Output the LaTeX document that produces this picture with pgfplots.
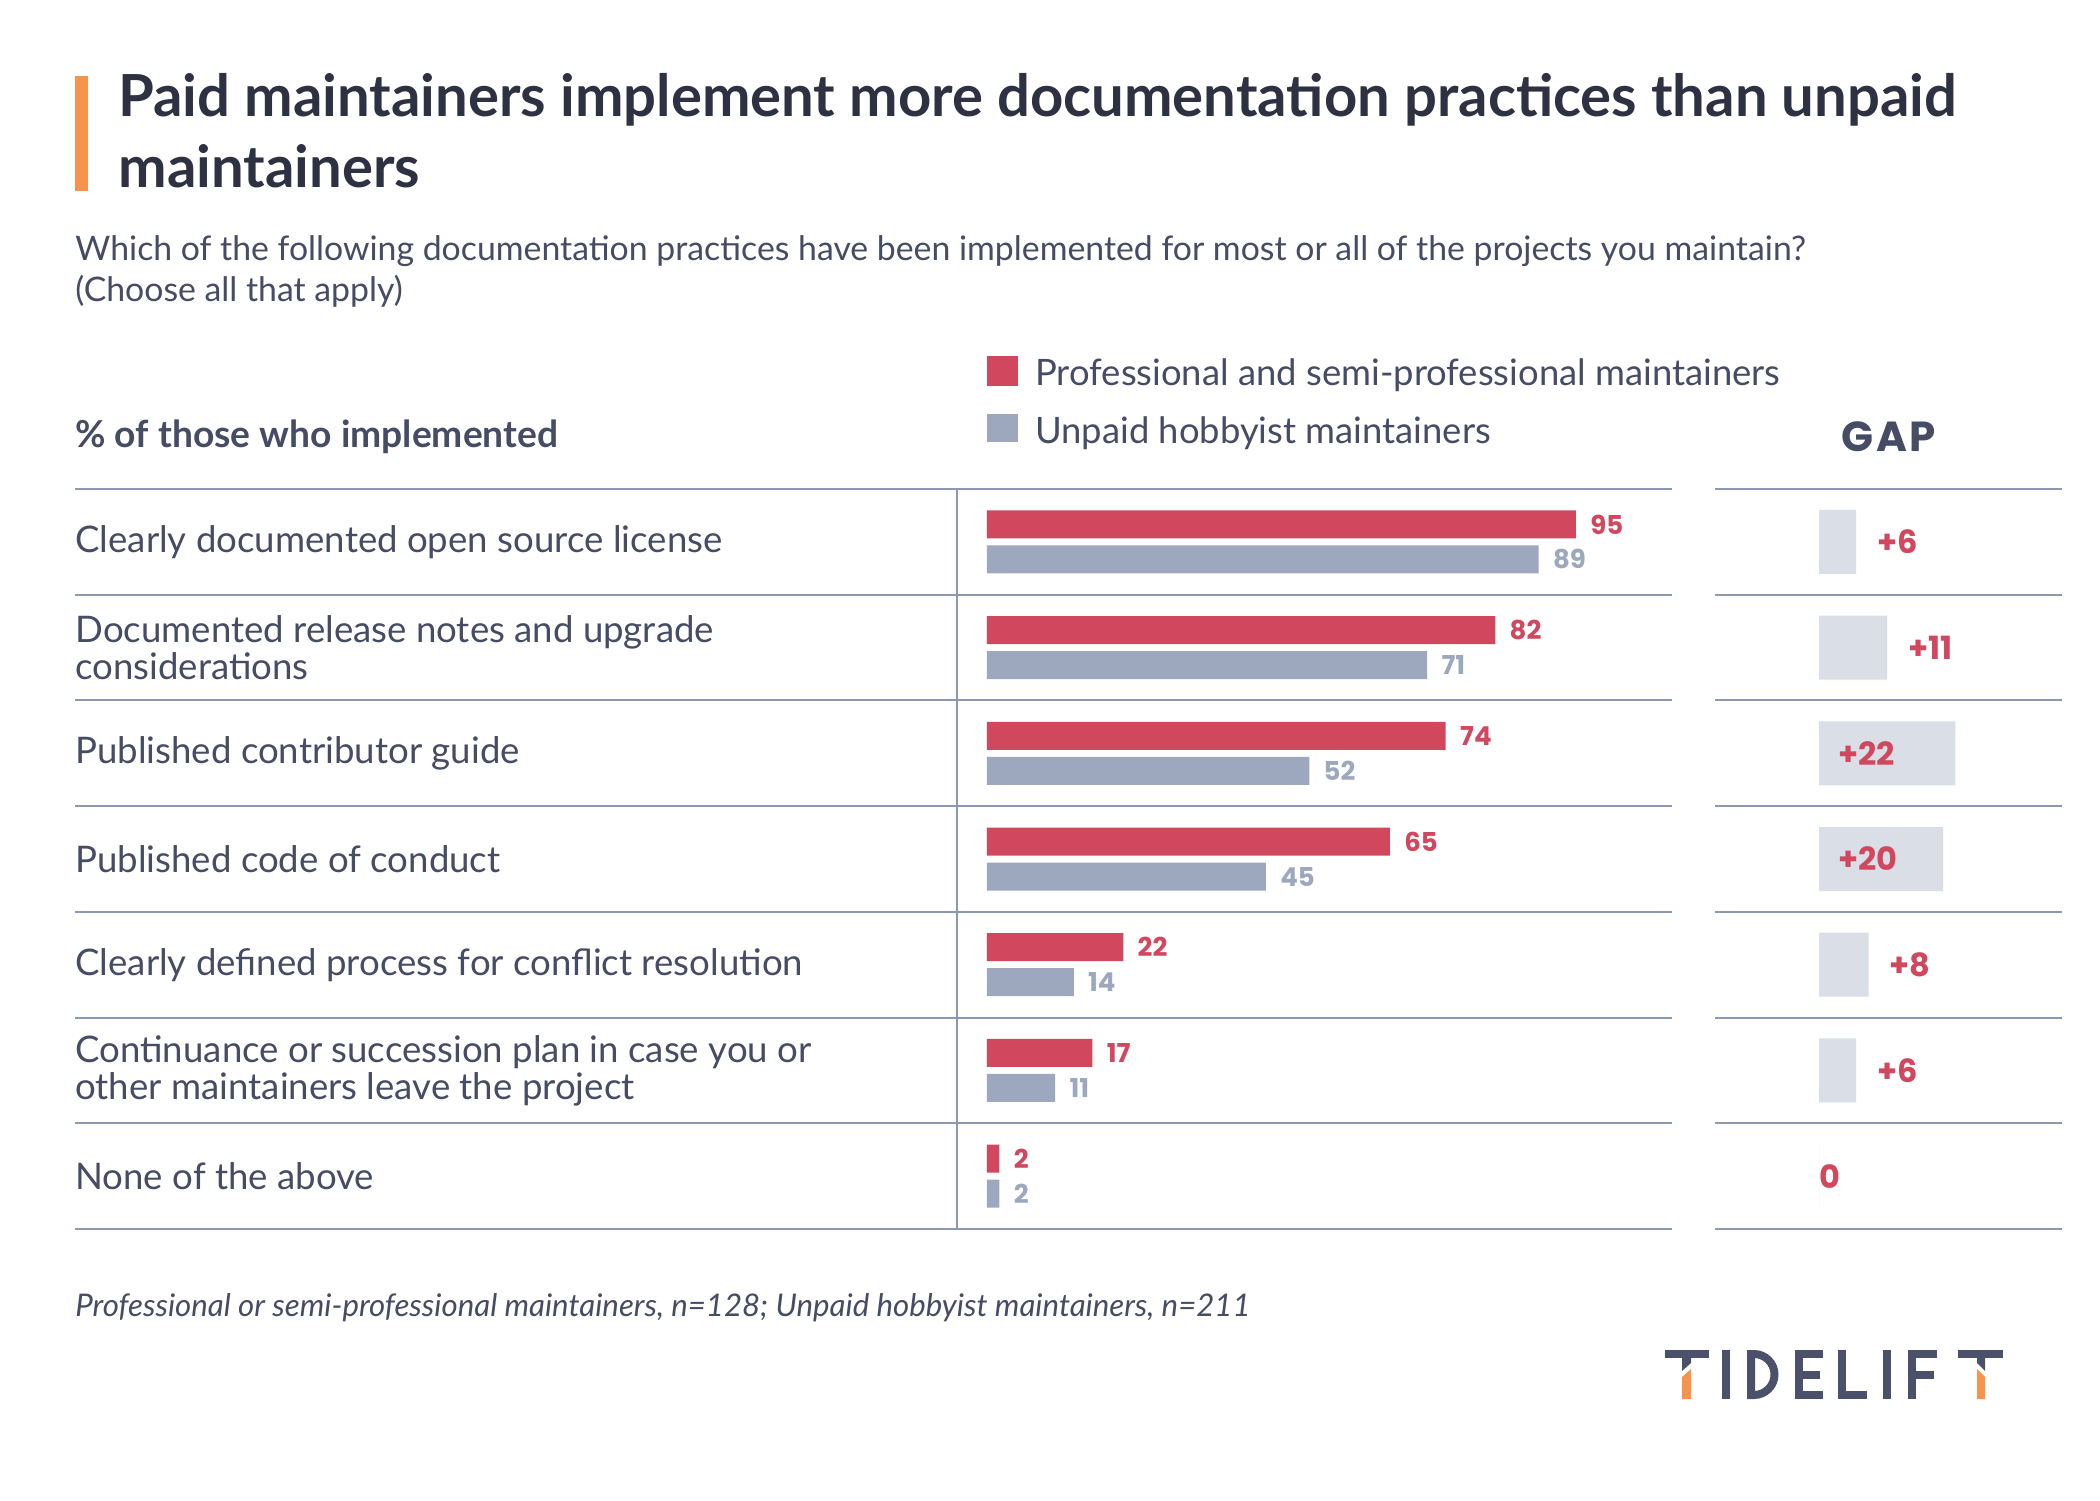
\documentclass[border=0pt]{standalone}
\usepackage{pgfplots}
\pgfplotsset{compat=1.18}
\usepackage{pgfplotstable}
\usepackage{fontspec}
\setmainfont{Lato}
\newfontfamily\gapfont{Poppins}
\newfontfamily\gaphead{Poppins}[LetterSpace=6]
\definecolor{red1}{HTML}{D1475D}
\definecolor{gray1}{HTML}{9DA8BF}
\definecolor{gapbox}{HTML}{DADFE7}
\definecolor{linecol}{HTML}{8B98AF}
\definecolor{orange1}{HTML}{F7934C}
\definecolor{textcol}{HTML}{464C64}
\definecolor{titlecol}{HTML}{2E3142}
\definecolor{logocol}{HTML}{4B516B}

\pgfplotstableread{
row pro hob
0 95 89
1 82 71
2 74 52
3 65 45
4 22 14
5 17 11
6 2 2
}\maindata

\pgfplotstableread{
row gap lx lab
0 6 9.3 +6
1 11 14.3 +11
2 22 3.0 +22
3 20 3.0 +20
4 8 11.3 +8
5 6 9.3 +6
6 0 0 0
}\gapdata

\begin{document}
\begin{tikzpicture}
\path[use as bounding box] (0,0) rectangle (1050pt,-750pt);
\fill[white] (0,0) rectangle (1050pt,-750pt);

% title
\fill[orange1] (37.5pt,-38pt) rectangle (44pt,-95.5pt);
\node[anchor=base west, inner sep=0pt, font=\bfseries\fontsize{29}{34}\selectfont, text=titlecol] at (59pt,-58pt) {Paid maintainers implement more documentation practices than unpaid};
\node[anchor=base west, inner sep=0pt, font=\bfseries\fontsize{29}{34}\selectfont, text=titlecol] at (59pt,-93.5pt) {maintainers};

% subtitle
\node[anchor=base west, inner sep=0pt, font=\fontsize{16.9}{20}\selectfont, text=textcol] at (37.5pt,-130pt) {Which of the following documentation practices have been implemented for most or all of the projects you maintain?};
\node[anchor=base west, inner sep=0pt, font=\fontsize{16.9}{20}\selectfont, text=textcol] at (37.5pt,-150.5pt) {(Choose all that apply)};

% legend
\fill[red1] (493.5pt,-178pt) rectangle (509pt,-193pt);
\fill[gray1] (493.5pt,-207pt) rectangle (509pt,-221pt);
\node[anchor=base west, inner sep=0pt, font=\fontsize{18.2}{20}\selectfont, text=textcol] at (517.5pt,-192.5pt) {Professional and semi-professional maintainers};
\node[anchor=base west, inner sep=0pt, font=\fontsize{18.2}{20}\selectfont, text=textcol] at (517.5pt,-221.5pt) {Unpaid hobbyist maintainers};

% headers
\node[anchor=base west, inner sep=0pt, font=\bfseries\fontsize{18.6}{20}\selectfont, text=textcol] at (37.5pt,-223.5pt) {\% of those who implemented};
\node[anchor=base, inner sep=0pt, font=\gaphead\bfseries\fontsize{21}{21}\selectfont, text=textcol] at (944.5pt,-225.5pt) {GAP};

\begin{axis}[
  at={(37.5pt,-244.5pt)}, anchor=north west,
  scale only axis, width=798.5pt, height=370pt,
  xmin=-147.1, xmax=110.5, ymin=-0.5, ymax=6.5, y dir=reverse,
  axis line style={draw=none}, major tick length=0pt,
  xtick=\empty, ytick={0,...,6},
  yticklabels={Clearly documented open source license,{Documented release notes and upgrade\\considerations},Published contributor guide,Published code of conduct,Clearly defined process for conflict resolution,{Continuance or succession plan in case you or\\other maintainers leave the project},None of the above},
  yticklabel style={anchor=west, align=left, inner sep=0pt, font=\fontsize{18.3}{18.5}\selectfont, text=textcol},
  clip=false,
  /pgf/number format/assume math mode=true,
  xbar, bar width=14pt, bar shift=0pt,
  nodes near coords,
  nodes near coords style={anchor=west, inner sep=0pt, xshift=7pt, font=\gapfont\bfseries\fontsize{13}{13}\selectfont},
]
\addplot[fill=red1, draw=none, every node near coord/.append style={text=red1}] table[x=pro, y expr=\thisrow{row}-0.1655]{\maindata};
\addplot[fill=gray1, draw=none, every node near coord/.append style={text=gray1}] table[x=hob, y expr=\thisrow{row}+0.1655]{\maindata};
\pgfplotsinvokeforeach{0,...,7}{\draw[linecol, line width=1pt] (axis cs:-147.1,#1-0.5) -- (axis cs:110.5,#1-0.5);}
\draw[linecol, line width=1pt] (axis cs:-4.84,-0.5) -- (axis cs:-4.84,6.5);
\end{axis}

\begin{axis}[
  at={(857.5pt,-244.5pt)}, anchor=north west,
  scale only axis, width=173.5pt, height=370pt,
  xmin=-16.77, xmax=39.19, ymin=-0.5, ymax=6.5, y dir=reverse,
  axis line style={draw=none}, major tick length=0pt,
  xtick=\empty, ytick=\empty, clip=false,
  bar width=32pt, bar shift=0pt,
]
\addplot[xbar, fill=gapbox, draw=none] table[x=gap, y=row]{\gapdata};
\addplot[draw=none, mark=none, nodes near coords, point meta=explicit symbolic,
  every node near coord/.append style={anchor=west, inner sep=0pt, text=red1, font=\gapfont\bfseries\fontsize{16}{16}\selectfont}] table[x=lx, y=row, meta=lab]{\gapdata};
\pgfplotsinvokeforeach{0,...,7}{\draw[linecol, line width=1pt] (axis cs:-16.77,#1-0.5) -- (axis cs:39.19,#1-0.5);}
\end{axis}

% footnote
\node[anchor=base west, inner sep=0pt, font=\itshape\fontsize{15.6}{16}\selectfont, text=textcol] at (37.5pt,-658pt) {Professional or semi-professional maintainers, n=128; Unpaid hobbyist maintainers, n=211};

% logo
\begin{scope}[x=0.5pt, y=-0.5pt]
  % T1
  \fill[logocol] (1665,1350) rectangle (1709,1358);
  \fill[logocol] (1682,1358) -- (1691,1358) -- (1691,1363) -- (1682,1371) -- cycle;
  \fill[orange1] (1682,1377) -- (1691,1369) -- (1691,1399) -- (1682,1399) -- cycle;
  % I
  \fill[logocol] (1722,1350) rectangle (1730,1399);
  % D
  \fill[logocol, even odd rule] (1747,1350) -- (1754,1350) arc[start angle=-90, end angle=90, radius=24.5] -- (1747,1399) -- cycle
     (1755,1358) -- (1754,1358) arc[start angle=-90, end angle=90, radius=16.5] -- (1755,1391) -- cycle;
  % E
  \fill[logocol] (1795,1350) rectangle (1803,1399);
  \fill[logocol] (1795,1350) rectangle (1823,1358);
  \fill[logocol] (1795,1371) rectangle (1820,1379);
  \fill[logocol] (1795,1391) rectangle (1823,1399);
  % L
  \fill[logocol] (1838,1350) rectangle (1846,1399);
  \fill[logocol] (1838,1391) rectangle (1867,1399);
  % I
  \fill[logocol] (1883,1350) rectangle (1891,1399);
  % F
  \fill[logocol] (1908,1350) rectangle (1916,1399);
  \fill[logocol] (1908,1350) rectangle (1937,1358);
  \fill[logocol] (1908,1371) rectangle (1934,1379);
  % T2
  \fill[logocol] (1958,1350) rectangle (2003,1358);
  \fill[logocol] (1977,1358) -- (1985,1358) -- (1985,1371) -- (1977,1363) -- cycle;
  \fill[orange1] (1977,1369) -- (1985,1377) -- (1985,1399) -- (1977,1399) -- cycle;
\end{scope}
\end{tikzpicture}
\end{document}
